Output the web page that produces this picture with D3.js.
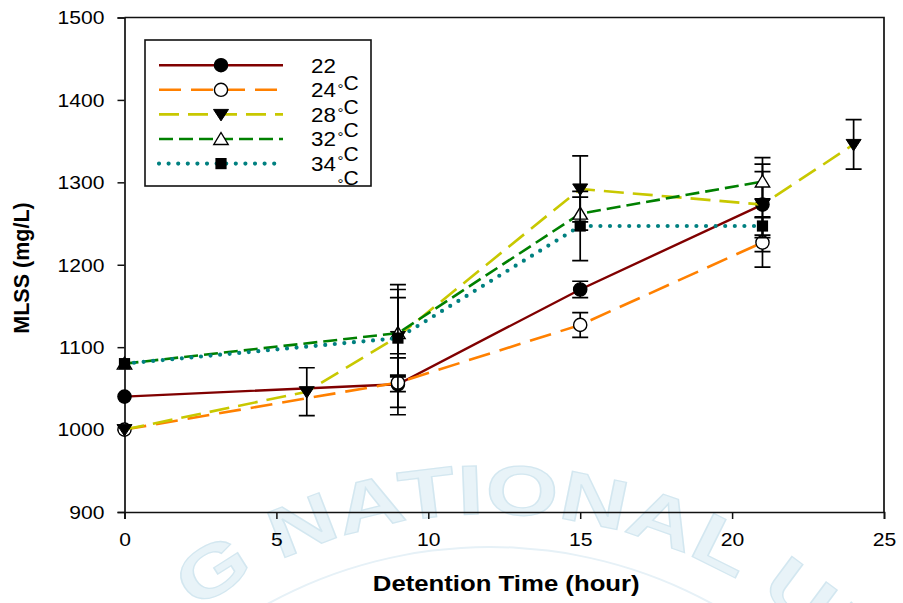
<!DOCTYPE html>
<html>
<head>
<meta charset="utf-8">
<script src="https://cdn.jsdelivr.net/npm/d3@7"></script>
<style>
  body { margin: 0; background: #fff; }
  svg { display: block; font-family: Arial, "Liberation Sans", sans-serif; }
</style>
</head>
<body>
<svg id="chart" width="903" height="603"></svg>
<script>
// ---- data ----
const xTicks = [0, 5, 10, 15, 20, 25];
const yTicks = [900, 1000, 1100, 1200, 1300, 1400, 1500];
const tempLabels = ["22", "24", "28", "32", "34"];

const hours22 = [0, 9, 15, 21];
const mlss22  = [1040, 1055, 1170, 1273];
const err22   = [0, 37, 10, 57];

const hours24 = [0, 9, 15, 21];
const mlss24  = [1000, 1057, 1127, 1227];
const err24   = [0, 30, 15, 30];

const hours28 = [0, 6, 9, 15, 21, 24];
const mlss28  = [1000, 1046, 1113, 1292, 1273, 1346];
const err28   = [0, 29, 47, 40, 40, 30];

const hours32 = [0, 9, 15, 21];
const mlss32  = [1080, 1117, 1262, 1301];
const err32   = [0, 53, 20, 21];

const hours34 = [0, 9, 15, 21];
const mlss34  = [1080, 1111, 1247, 1247];
const err34   = [0, 65, 42, 11];

const xLabel = "Detention Time (hour)";
const yLabel = "MLSS (mg/L)";
const unitLabel = "C";
const sealText = "G NATIONAL UNI";

// ---- styles ----
const styles = [
  { color: "#800000", dash: null,    width: 2.4, cap: "butt",  marker: "circleFilled" },
  { color: "#ff8000", dash: "22,10", width: 2.6, cap: "butt",  marker: "circleOpen" },
  { color: "#c8c800", dash: "20,9",  width: 2.6, cap: "butt",  marker: "triDown" },
  { color: "#008000", dash: "14,6",  width: 2.6, cap: "butt",  marker: "triUp" },
  { color: "#008080", dash: "0,9.6", width: 4.2, cap: "round", marker: "square" }
];

const series = [
  { hours: hours22, mlss: mlss22, err: err22 },
  { hours: hours24, mlss: mlss24, err: err24 },
  { hours: hours28, mlss: mlss28, err: err28 },
  { hours: hours32, mlss: mlss32, err: err32 },
  { hours: hours34, mlss: mlss34, err: err34 }
].map((s, i) => ({ label: tempLabels[i], style: styles[i],
  points: s.hours.map((h, j) => ({ x: h, y: s.mlss[j], e: s.err[j] })) }));

// ---- layout ----
const svg = d3.select("#chart");
const plotLeft = 124.5, plotRight = 884, plotTop = 17.5, plotBottom = 512;
const x = d3.scaleLinear().domain([0, 25]).range([plotLeft, plotRight]);
const y = d3.scaleLinear().domain([900, 1500]).range([plotBottom, plotTop]);

// widen text slightly (the chart's type runs a little broad)
function stretch(sel, k) {
  sel.each(function () {
    const w = this.getComputedTextLength();
    this.setAttribute("textLength", (w * k).toFixed(1));
    this.setAttribute("lengthAdjust", "spacingAndGlyphs");
  });
}

// ---- faint seal in the background ----
const seal = svg.append("g").attr("class", "seal");
const sealCx = 490, sealCy = 1010, sealR = 496;
const arcPath = d3.path();
arcPath.arc(sealCx, sealCy, sealR, -Math.PI / 2 - 1.05, -Math.PI / 2 + 1.05);
svg.append("defs").append("path").attr("id", "sealArc").attr("d", arcPath.toString());
seal.append("path")
  .attr("d", d3.arc()({ innerRadius: 462, outerRadius: 464, startAngle: -1.0, endAngle: 1.0 }))
  .attr("transform", `translate(${sealCx},${sealCy})`)
  .attr("fill", "#e6f1f7");
seal.append("text")
  .attr("font-size", 70).attr("font-weight", "bold")
  .attr("fill", "#e8f3f8").attr("stroke", "#d3e7f0").attr("stroke-width", 1.2)
  .append("textPath")
  .attr("href", "#sealArc")
  .attr("startOffset", 205)
  .attr("textLength", 760)
  .attr("lengthAdjust", "spacingAndGlyphs")
  .text(sealText);

// ---- axes ----
const axisColor = "#111";
const gx = svg.append("g").attr("transform", `translate(0,${plotBottom})`)
  .call(d3.axisBottom(x).tickValues(xTicks).tickSize(7).tickPadding(12).tickFormat(d3.format("d")));
const gy = svg.append("g").attr("transform", `translate(${plotLeft},0)`)
  .call(d3.axisLeft(y).tickValues(yTicks).tickSize(7).tickPadding(13).tickFormat(d3.format("d")));
[gx, gy].forEach(g => {
  g.select(".domain").attr("stroke", axisColor).attr("stroke-width", 1.7);
  g.selectAll(".tick line").attr("stroke", axisColor).attr("stroke-width", 1.5);
  g.selectAll(".tick text").attr("fill", "#000").attr("font-size", 18.5)
    .attr("font-family", "Arial, 'Liberation Sans', sans-serif");
});
gx.selectAll(".tick text").attr("dy", "0.82em");
gy.selectAll(".tick text").attr("dy", "0.34em");
stretch(gx.selectAll(".tick text"), 1.14);
stretch(gy.selectAll(".tick text"), 1.14);

// frame on top and right
svg.append("path")
  .attr("d", `M${plotLeft},${plotTop}H${plotRight}V${plotBottom}`)
  .attr("fill", "none").attr("stroke", axisColor).attr("stroke-width", 1.7);

// axis titles
const xt = svg.append("text").attr("x", (plotLeft + plotRight) / 2 + 2).attr("y", 591)
  .attr("text-anchor", "middle").attr("font-weight", "bold").attr("font-size", 22)
  .text(xLabel);
stretch(xt, 1.17);
svg.append("text").attr("transform", "translate(29,268) rotate(-90)")
  .attr("text-anchor", "middle").attr("font-weight", "bold").attr("font-size", 21.5)
  .text(yLabel);

// ---- markers ----
function drawMarker(g, type, px, py) {
  if (type === "circleFilled" || type === "circleOpen") {
    g.append("circle").attr("cx", px).attr("cy", py).attr("r", 6.6)
      .attr("fill", type === "circleFilled" ? "#000" : "#fff")
      .attr("stroke", "#000").attr("stroke-width", 1.4);
  } else if (type === "triDown") {
    g.append("path").attr("d", `M${px - 7.5},${py - 5}L${px + 7.5},${py - 5}L${px},${py + 6.5}Z`)
      .attr("fill", "#000").attr("stroke", "#000").attr("stroke-width", 1);
  } else if (type === "triUp") {
    g.append("path").attr("d", `M${px - 7.2},${py + 5.5}L${px + 7.2},${py + 5.5}L${px},${py - 6.5}Z`)
      .attr("fill", "#fff").attr("stroke", "#000").attr("stroke-width", 1.4);
  } else if (type === "square") {
    g.append("rect").attr("x", px - 5.6).attr("y", py - 5.6).attr("width", 11.2).attr("height", 11.2)
      .attr("fill", "#000");
  }
}

const line = d3.line().x(d => x(d.x)).y(d => y(d.y));
const plot = svg.append("g");
series.forEach(s => {
  const g = plot.append("g");
  g.append("path").datum(s.points).attr("d", line)
    .attr("fill", "none").attr("stroke", s.style.color)
    .attr("stroke-width", s.style.width).attr("stroke-linecap", s.style.cap)
    .attr("stroke-dasharray", s.style.dash);
  s.points.filter(p => p.e > 0).forEach(p => {
    const px = x(p.x), y1 = y(p.y + p.e), y2 = y(p.y - p.e);
    g.append("path")
      .attr("d", `M${px},${y1}V${y2}M${px - 8},${y1}H${px + 8}M${px - 8},${y2}H${px + 8}`)
      .attr("fill", "none").attr("stroke", "#000").attr("stroke-width", 1.7);
  });
  s.points.forEach(p => drawMarker(g, s.style.marker, x(p.x), y(p.y)));
});

// ---- legend ----
const lg = svg.append("g");
lg.append("rect").attr("x", 145).attr("y", 40).attr("width", 226).attr("height", 146)
  .attr("fill", "#fff").attr("stroke", "#111").attr("stroke-width", 1.6);
series.forEach((s, i) => {
  const ry = 65.2 + i * 24.6;
  lg.append("line").attr("x1", 159).attr("x2", 283).attr("y1", ry).attr("y2", ry)
    .attr("stroke", s.style.color).attr("stroke-width", s.style.width)
    .attr("stroke-linecap", s.style.cap).attr("stroke-dasharray", s.style.dash);
  drawMarker(lg, s.style.marker, 221, ry);
  const t = lg.append("text").attr("x", 311).attr("y", ry + 7.3)
    .attr("font-size", 20).text(s.label);
  stretch(t, 1.12);
  const uy = 82.6 + i * 23.8;
  lg.append("text").attr("x", 337.5).attr("y", uy + 11.5).attr("font-size", 15).text("°");
  const c = lg.append("text").attr("x", 343.5).attr("y", uy + 7.2).attr("font-size", 20).text(unitLabel);
  stretch(c, 1.05);
});
</script>
</body>
</html>
